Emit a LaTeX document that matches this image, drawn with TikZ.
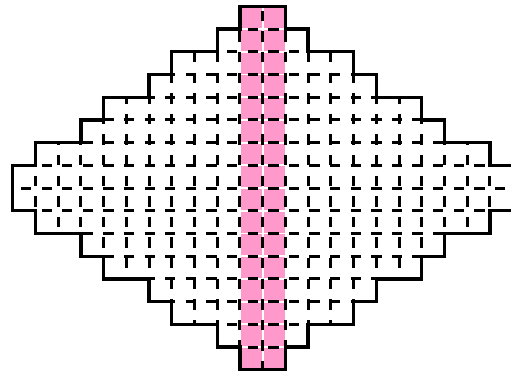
\documentclass[tikz,border=0pt]{standalone}
\definecolor{cellpink}{RGB}{255,153,204}
\begin{document}
\begin{tikzpicture}[x=22.72pt,y=-22.72pt,
  gridline/.style={line width=3pt, dash pattern=on 10.3pt off 10.3pt},
  outline/.style={line width=3.3pt, line join=miter},
  pinkcell/.style={fill=cellpink}]
\useasboundingbox (-11.5625,-0.2773) rectangle (10.9287,16.2720);
% pink middle columns
\foreach \r in {0,...,15}{
  \foreach \c in {-1,0}{
    \fill[pinkcell] ([xshift=0.9pt,yshift=-0.9pt]\c,\r) rectangle ([xshift=-0.9pt,yshift=0.9pt]\c+1,\r+1);
  }
}
% horizontal inner lines
\foreach \r/\m in {1/1,2/2,3/4,4/5,5/7,6/8,7/10,8/11,9/10,10/8,11/7,12/5,13/4,14/2,15/1}{
  \pgfmathsetmacro\ph{mod(262.7-22.72*\m-0.4,20.6)}
  \draw[gridline, dash phase=\ph pt] (-\m,\r) -- (\m,\r);
}
% vertical inner lines
\foreach \a/\s/\e in {0/0/16,1/1/15,2/2/14,3/2/14,4/3/13,5/4/12,6/4/12,7/5/11,8/6/10,9/6/10,10/7/9}{
  \pgfmathsetmacro\pv{mod(6.3+22.72*\s-10.8+103,20.6)}
  \foreach \k in {-\a,\a}{
    \draw[gridline, dash phase=\pv pt] (\k,\s) -- (\k,\e);
  }
}
% outline
\draw[outline] (-1,0) -- (1,0) -- (1,1) -- (2,1) -- (2,2) -- (4,2) -- (4,3) -- (5,3) -- (5,4) -- (7,4) -- (7,5) -- (8,5) -- (8,6) -- (10,6) -- (10,7) -- (11,7) -- (11,9) -- (10,9) -- (10,10) -- (8,10) -- (8,11) -- (7,11) -- (7,12) -- (5,12) -- (5,13) -- (4,13) -- (4,14) -- (2,14) -- (2,15) -- (1,15) -- (1,16) -- (-1,16) -- (-1,15) -- (-2,15) -- (-2,14) -- (-4,14) -- (-4,13) -- (-5,13) -- (-5,12) -- (-7,12) -- (-7,11) -- (-8,11) -- (-8,10) -- (-10,10) -- (-10,9) -- (-11,9) -- (-11,7) -- (-10,7) -- (-10,6) -- (-8,6) -- (-8,5) -- (-7,5) -- (-7,4) -- (-5,4) -- (-5,3) -- (-4,3) -- (-4,2) -- (-2,2) -- (-2,1) -- (-1,1) -- cycle;
\end{tikzpicture}
\end{document}
